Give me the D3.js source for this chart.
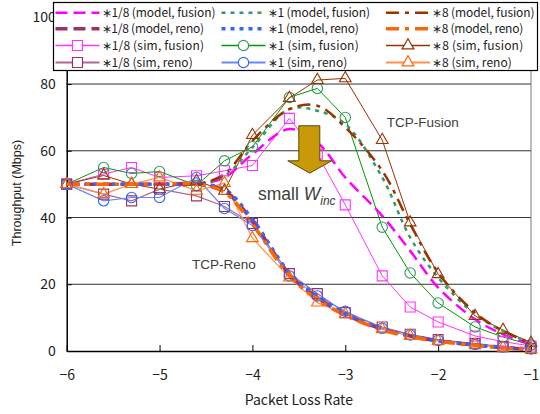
<!DOCTYPE html>
<html>
<head>
<meta charset="utf-8">
<script src="https://cdn.jsdelivr.net/npm/d3@7"></script>
<style>
body { margin: 0; background: #fff; }
text { fill: #222; }
</style>
</head>
<body>
<svg id="chart" width="540" height="414"></svg>
<script>
// Packet loss rates that were measured (x axis is log scale)
var lossRates = [1e-6, 2.5e-6, 5e-6, 1e-5, 2.5e-5, 5e-5, 1e-4, 2.5e-4, 5e-4,
                 1e-3, 2.5e-3, 5e-3, 1e-2, 2.5e-2, 5e-2, 1e-1];

// Tick labels
var xTicks = [1e-6, 1e-5, 1e-4, 1e-3, 1e-2, 1e-1];
var xTickLabels = ["\u22126", "\u22125", "\u22124", "\u22123", "\u22122", "\u22121"];
var yTicks = [0, 20, 40, 60, 80, 100];

// Model curves (Mbps)
var modelFusion18 = [50, 50, 50, 50, 50, 52, 59, 66.5, 62.5, 52, 40.5, 30, 19, 9.5, 5, 2];
var modelFusion1  = [50, 50, 50, 50, 50, 52.5, 61, 72.5, 72, 68, 52, 34, 22, 11, 6, 2.5];
var modelFusion8  = [50, 50, 50, 50, 50, 53, 63, 72.5, 73.5, 67, 54, 38, 23.5, 11.5, 6, 2.4];
var modelReno18   = [50, 50, 50, 50, 50, 48, 39, 23, 16, 11, 6.5, 4.5, 3, 1.8, 1, 0.5];
var modelReno1    = [50, 50, 50, 50, 50, 48.5, 39.5, 23.5, 16.5, 11.3, 6.7, 4.6, 3.1, 1.9, 1.1, 0.6];
var modelReno8    = [50, 50, 50, 50, 50, 47.5, 38, 22.5, 15.5, 10.7, 6.3, 4.3, 2.9, 1.7, 0.9, 0.5];

// Simulation results (Mbps)
var simFusion18 = [50, 53, 55, 52, 52.5, 54, 55.6, 69.7, 59, 43.8, 22.5, 13.2, 8.7, 4.5, 2.8, 1.5];
var simFusion1  = [50, 55, 53.2, 53.8, 49.6, 57, 61.2, 76, 78.7, 70, 37.1, 23.4, 14.4, 7.2, 4.2, 1.8];
var simFusion8  = [50, 52.6, 50, 48.5, 51, 48, 64.7, 75.8, 81.2, 81.7, 63.2, 38.5, 23, 10.5, 6.3, 2.4];
var simReno18   = [50, 47, 45, 48.5, 46.5, 43.3, 38.2, 23.2, 17.2, 11.5, 7.2, 5, 3.4, 2.2, 1.3, 0.8];
var simReno1    = [50, 45, 46, 46, 52, 42.7, 37.6, 22.5, 16.5, 11.9, 6.8, 4.8, 3.2, 2, 1.2, 0.6];
var simReno8    = [50, 47, 50, 52, 48, 50.3, 33.8, 22, 14.5, 11, 6.5, 4.5, 3, 1.9, 1, 0.5];

// Area of the plot (not "top": that name is taken by window.top)
var plotLeft = 66.7, plotRight = 531, plotTop = 17.3, plotBottom = 351;

var svg = d3.select("svg#chart");

var x = d3.scaleLog().domain([1e-6, 1e-1]).range([plotLeft, plotRight]);
var y = d3.scaleLinear().domain([0, 100]).range([plotBottom, plotTop]);

// Styles for every series, in legend order (row by row)
var series = [
  { name: "\u22171/8 (model, fusion)", values: modelFusion18, type: "model", color: "#FF00FF", width: 2.5, dash: "12,6" },
  { name: "\u22171 (model, fusion)",   values: modelFusion1,  type: "model", color: "#339966", width: 2.5, dash: "4,5" },
  { name: "\u22178 (model, fusion)",   values: modelFusion8,  type: "model", color: "#993300", width: 2.5, dash: "13,6,4,6" },
  { name: "\u22171/8 (model, reno)",   values: modelReno18,   type: "model", color: "#993366", width: 3.5, dash: "12,6" },
  { name: "\u22171 (model, reno)",     values: modelReno1,    type: "model", color: "#3366FF", width: 3.5, dash: "4,5" },
  { name: "\u22178 (model, reno)",     values: modelReno8,    type: "model", color: "#FF6600", width: 3.5, dash: "13,6,4,6" },
  { name: "\u22171/8 (sim, fusion)",   values: simFusion18,   type: "sim", color: "#FF33FF", mark: "#FF33FF", symbol: d3.symbolSquare, size: 100, width: 1 },
  { name: "\u22171 (sim, fusion)",     values: simFusion1,    type: "sim", color: "#009900", mark: "#339966", symbol: d3.symbolCircle, size: 85, width: 1 },
  { name: "\u22178 (sim, fusion)",     values: simFusion8,    type: "sim", color: "#993300", mark: "#993300", symbol: d3.symbolTriangle, size: 60, width: 1 },
  { name: "\u22171/8 (sim, reno)",     values: simReno18,     type: "sim", color: "#B06890", mark: "#993366", symbol: d3.symbolSquare, size: 100, width: 1.2 },
  { name: "\u22171 (sim, reno)",       values: simReno1,      type: "sim", color: "#6688FF", mark: "#3366FF", symbol: d3.symbolCircle, size: 85, width: 1.2 },
  { name: "\u22178 (sim, reno)",       values: simReno8,      type: "sim", color: "#FF9050", mark: "#FF6600", symbol: d3.symbolTriangle, size: 60, width: 1.2 }
];

// Gridlines
svg.selectAll("line.grid")
  .data(yTicks.filter(d => d > 0))
  .enter().append("line")
  .attr("class", "grid")
  .attr("x1", plotLeft)
  .attr("x2", plotRight)
  .attr("y1", d => y(d))
  .attr("y2", d => y(d))
  .attr("stroke", "#333")
  .attr("stroke-width", 1);

// Right border
svg.append("line")
  .attr("x1", plotRight).attr("x2", plotRight)
  .attr("y1", plotTop).attr("y2", plotBottom)
  .attr("stroke", "#777");

// Axes
var xAxis = d3.axisBottom(x)
  .tickValues(xTicks)
  .tickSizeInner(-6)
  .tickSizeOuter(0)
  .tickPadding(19)
  .tickFormat((d, i) => xTickLabels[i]);

var gx = svg.append("g")
  .attr("transform", "translate(0," + plotBottom + ")")
  .call(xAxis);
gx.select(".domain").attr("stroke", "#000").attr("stroke-width", 1.5);
gx.selectAll("text")
  .attr("font-family", "'Noto Sans CJK JP', sans-serif")
  .attr("font-size", 14)
  .attr("fill", "#222");

var yAxis = d3.axisLeft(y)
  .tickValues(yTicks)
  .tickSizeInner(-5)
  .tickSizeOuter(0)
  .tickPadding(11);

var gy = svg.append("g")
  .attr("transform", "translate(" + plotLeft + ",0)")
  .call(yAxis);
gy.select(".domain").attr("stroke", "#000").attr("stroke-width", 1.5);
gy.selectAll("text")
  .attr("font-family", "'Noto Sans CJK JP', sans-serif")
  .attr("font-size", 14)
  .attr("fill", "#222");

// Axis titles
svg.append("text")
  .attr("x", (plotLeft + plotRight) / 2)
  .attr("y", 405)
  .attr("text-anchor", "middle")
  .attr("font-family", "'Noto Sans CJK JP', sans-serif")
  .attr("font-size", 14)
  .text("Packet Loss Rate");

svg.append("text")
  .attr("transform", "translate(21,193) rotate(-90)")
  .attr("text-anchor", "middle")
  .attr("font-family", "'Liberation Sans', Arial, sans-serif")
  .attr("font-size", 12.5)
  .text("Throughput (Mbps)");

// Lines
var simLine = d3.line()
  .x((d, i) => x(lossRates[i]))
  .y(d => y(d));

var modelLine = d3.line()
  .x((d, i) => x(lossRates[i]))
  .y(d => y(d))
  .curve(d3.curveCatmullRom);

var plot = svg.append("g");

plot.selectAll("path.sim")
  .data(series.filter(s => s.type == "sim"))
  .enter().append("path")
  .attr("class", "sim")
  .attr("d", s => simLine(s.values))
  .attr("fill", "none")
  .attr("stroke", s => s.color)
  .attr("stroke-width", s => s.width);

plot.selectAll("path.model")
  .data(series.filter(s => s.type == "model"))
  .enter().append("path")
  .attr("class", "model")
  .attr("d", s => modelLine(s.values))
  .attr("fill", "none")
  .attr("stroke", s => s.color)
  .attr("stroke-width", s => s.width)
  .attr("stroke-dasharray", s => s.dash);

// Hollow markers for the simulation points
series.filter(s => s.type == "sim").forEach(function(s) {
  var sym = d3.symbol().type(s.symbol).size(s.size);
  plot.selectAll(null)
    .data(s.values)
    .enter().append("path")
    .attr("d", sym)
    .attr("transform", (d, i) => "translate(" + x(lossRates[i]) + "," + y(d) + ")")
    .attr("fill", "none")
    .attr("stroke", s.mark)
    .attr("stroke-width", 1.1);
});

// Annotations
var arrowLoss = 4.15e-4;
var ax = x(arrowLoss);
var arrowTop = y(67.5), arrowShoulder = y(57), arrowTip = y(53.3);
svg.append("path")
  .attr("d", "M" + (ax - 11) + "," + arrowTop +
             "L" + (ax + 10) + "," + arrowTop +
             "L" + (ax + 10) + "," + arrowShoulder +
             "L" + (ax + 22) + "," + arrowShoulder +
             "L" + ax + "," + arrowTip +
             "L" + (ax - 22) + "," + arrowShoulder +
             "L" + (ax - 11) + "," + arrowShoulder + "Z")
  .attr("fill", "#C99A08")
  .attr("stroke", "#5E4A0A")
  .attr("stroke-width", 1);

svg.append("text")
  .attr("x", x(2.8e-3))
  .attr("y", y(67.2))
  .attr("font-family", "'Liberation Sans', Arial, sans-serif")
  .attr("font-size", 13.5)
  .style("fill", "#404040")
  .text("TCP-Fusion");

svg.append("text")
  .attr("x", x(2.23e-5))
  .attr("y", y(24.7))
  .attr("font-family", "'Liberation Sans', Arial, sans-serif")
  .attr("font-size", 13.5)
  .style("fill", "#404040")
  .text("TCP-Reno");

var small = svg.append("text")
  .attr("x", x(1.15e-4))
  .attr("y", y(45.4))
  .attr("font-family", "'Liberation Sans', Arial, sans-serif")
  .attr("font-size", 17.5)
  .style("fill", "#404040");
small.append("tspan").text("small ");
small.append("tspan").attr("font-style", "italic").text("W");
small.append("tspan").attr("font-style", "italic").attr("font-size", 12).attr("dy", 5).text("inc");

// Legend
var legend = svg.append("g");
legend.append("rect")
  .attr("x", 53.5)
  .attr("y", 2.5)
  .attr("width", 484)
  .attr("height", 68)
  .attr("fill", "#fff")
  .attr("stroke", "#000")
  .attr("stroke-width", 1.2);

var colX = [55.5, 221.5, 386];
var rowY = [12.8, 28.7, 45.5, 62.5];
var sampleLen = 44;

var items = legend.selectAll("g.item")
  .data(series)
  .enter().append("g")
  .attr("class", "item")
  .attr("transform", (s, i) => "translate(" + colX[i % 3] + "," + rowY[Math.floor(i / 3)] + ")");

items.append("line")
  .attr("x1", 0)
  .attr("x2", sampleLen)
  .attr("stroke", s => s.color)
  .attr("stroke-width", s => s.type == "sim" ? s.width + 0.6 : s.width)
  .attr("stroke-dasharray", s => s.dash || null);

items.filter(s => s.type == "sim").append("path")
  .attr("d", s => d3.symbol().type(s.symbol).size(s.size)())
  .attr("transform", "translate(" + sampleLen / 2 + ",0)")
  .attr("fill", "#fff")
  .attr("stroke", s => s.mark)
  .attr("stroke-width", 1.2);

// Reference font is a fixed-width gothic, so stretch each label to ~5.7px a character
items.append("text")
  .attr("x", sampleLen + 2)
  .attr("dy", "0.35em")
  .attr("font-family", "'Noto Sans CJK JP', sans-serif")
  .attr("font-size", 12)
  .attr("textLength", s => s.name.length * 5.7)
  .attr("lengthAdjust", "spacing")
  .text(s => s.name);
</script>
</body>
</html>
